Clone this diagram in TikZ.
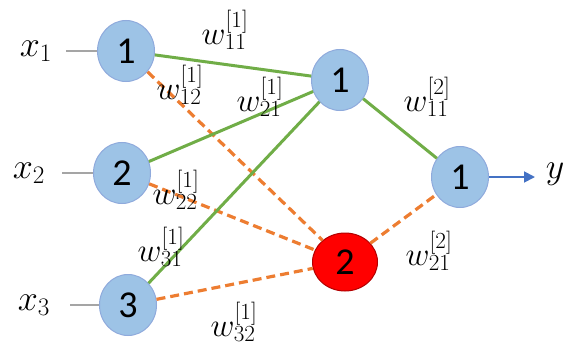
\RequirePackage{fix-cm}
\documentclass[tikz,border=0pt]{standalone}
\usepackage{fontspec}
\newfontfamily\numfont{Carlito}
\usetikzlibrary{arrows.meta,shapes.geometric}
\definecolor{nblue}{HTML}{9DC3E6}
\definecolor{nborder}{HTML}{8FAADC}
\definecolor{egreen}{HTML}{70AD47}
\definecolor{eorange}{HTML}{ED7D31}
\definecolor{egray}{HTML}{A5A5A5}
\definecolor{ablue}{HTML}{4472C4}
\begin{document}
\begin{tikzpicture}[x=1pt,y=-1pt,
  neuron/.style={ellipse,draw=nborder,line width=1pt,fill=nblue,minimum width=57pt,minimum height=61pt,inner sep=0pt,font=\numfont\fontsize{38}{40}\selectfont},
  redneuron/.style={neuron,fill=red,draw=red!70!black,minimum width=65pt,minimum height=58pt},
  wlab/.style={inner sep=0pt,font=\fontsize{33}{35}\selectfont},
  xlab/.style={inner sep=0pt,font=\fontsize{36}{38}\selectfont},
  gline/.style={draw=egreen,line width=3pt},
  oline/.style={draw=eorange,line width=3.2pt,dash pattern=on 9pt off 5pt},
  inline/.style={draw=egray,line width=2.6pt}]
\useasboundingbox (0,0) rectangle (565,345);
% neurons
\node[neuron] (i1) at (126,51) {1};
\node[neuron] (i2) at (122,173) {2};
\node[neuron] (i3) at (128,305) {3};
\node[neuron] (h1) at (340,80) {1};
\node[redneuron] (h2) at (345,262) {2};
\node[neuron] (o1) at (460,177) {1};
% inputs
\node[xlab] (x1) at (36,51) {$x_1$};
\node[xlab] (x2) at (29,173) {$x_2$};
\node[xlab] (x3) at (34,305) {$x_3$};
\coordinate (x1e) at (66,51);
\coordinate (x2e) at (62,173);
\coordinate (x3e) at (70,305);
\draw[inline] (x1e) -- (i1);
\draw[inline] (x2e) -- (i2);
\draw[inline] (x3e) -- (i3);
% edges
\draw[oline] (i1) -- (h2);
\draw[oline] (i2) -- (h2);
\draw[oline] (i3) -- (h2);
\draw[oline] (h2) -- (o1);
\draw[gline] (i1) -- (h1);
\draw[gline] (i2) -- (h1);
\draw[gline] (i3) -- (h1);
\draw[gline] (h1) -- (o1);
% output
\node[xlab] (y) at (555,174) {$y$};
\coordinate (ye) at (535,177);
\draw[draw=ablue,line width=1.8pt,-{Triangle[length=11pt,width=11pt]}] (o1) -- (ye);
% weight labels
\node[wlab] (w111) at (225,30) {$w_{11}^{[1]}$};
\node[wlab] (w121) at (180,85) {$w_{12}^{[1]}$};
\node[wlab] (w211) at (260,97) {$w_{21}^{[1]}$};
\node[wlab] (w221) at (176,190) {$w_{22}^{[1]}$};
\node[wlab] (w311) at (161,247) {$w_{31}^{[1]}$};
\node[wlab] (w321) at (234,322) {$w_{32}^{[1]}$};
\node[wlab] (w112) at (427,97) {$w_{11}^{[2]}$};
\node[wlab] (w212) at (429,251) {$w_{21}^{[2]}$};
\end{tikzpicture}
\end{document}
